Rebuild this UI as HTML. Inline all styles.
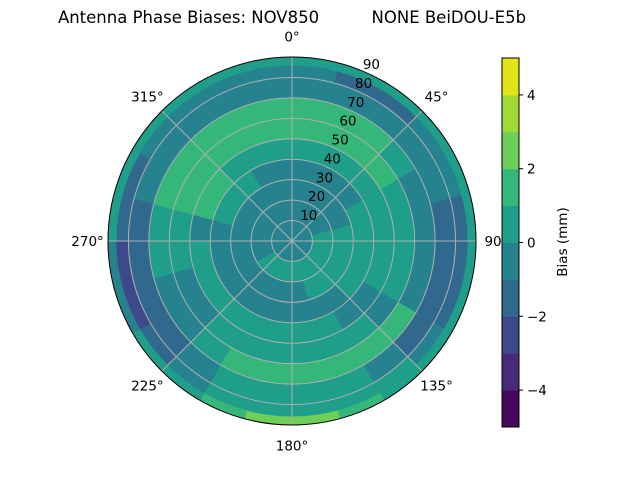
<!DOCTYPE html>
<html><head><meta charset="utf-8"><style>
body{margin:0;background:#fff}
svg{display:block;font-family:"DejaVu Sans","Liberation Sans",sans-serif}
</style></head><body>
<svg id="chart" width="640" height="480" viewBox="0 0 640 480">
<text x="292" y="23" text-anchor="middle" font-size="16.5" style="white-space:pre">Antenna Phase Biases: NOV850          NONE BeiDOU-E5b</text>
<g id="cells"></g>
<g id="grid"></g>
<g id="labels"></g>
<g id="cbar"></g>
</svg>
<script>
const levels=[-5,-4,-3,-2,-1,0,1,2,3,4,5];
const levelColors=["#46085c","#472a7a","#3e4989","#31688e","#26828e","#1f9e89","#35b779","#6ece58","#a0da39","#e2e418"];
const radialTicks=[10,20,30,40,50,60,70,80,90];
const angleTicks=[0,45,90,135,180,225,270,315];
const cbTicks=[-4,-2,0,2,4];
const ringEdges=[0,10,20,30,40,50,60,70,80,86,90];
const ring0=[-0.5,-0.5,-0.5,-0.5,-0.5,-0.5,-0.5,-0.5,-0.5,-0.5,-0.5,-0.5,-0.5,-0.5,-0.5,-0.5,-0.5,-0.5,-0.5,-0.5,-0.5,-0.5,-0.5,-0.5];
const ring1=[-0.5,-0.5,-0.5,-0.5,-0.5,0.5,0.5,0.5,0.5,0.5,0.5,0.5,0.5,0.5,0.5,0.5,-0.5,-0.5,-0.5,-0.5,-0.5,-0.5,-0.5,-0.5];
const ring2=[-0.5,-0.5,-0.5,-0.5,-0.5,0.5,0.5,0.5,0.5,0.5,0.5,-0.5,-0.5,-0.5,-0.5,-0.5,-0.5,-0.5,-0.5,-0.5,-0.5,-0.5,-0.5,-0.5];
const ring3=[-0.5,-0.5,-0.5,-0.5,0.5,0.5,0.5,0.5,0.5,-0.5,-0.5,-0.5,-0.5,-0.5,-0.5,-0.5,-0.5,-0.5,-0.5,0.5,0.5,0.5,-0.5,-0.5];
const ring4=[0.5,0.5,0.5,0.5,0.5,0.5,0.5,0.5,-0.5,-0.5,0.5,0.5,0.5,0.5,0.5,0.5,0.5,0.5,-0.5,1.5,1.5,0.5,0.5,0.5];
const ring5=[1.5,1.5,1.5,1.5,0.5,0.5,0.5,0.5,-0.5,0.5,0.5,0.5,0.5,0.5,0.5,-0.5,-0.5,0.5,0.5,1.5,1.5,1.5,1.5,1.5];
const ring6=[1.5,1.5,1.5,0.5,-0.5,-0.5,-0.5,-0.5,1.5,1.5,1.5,1.5,1.5,1.5,0.5,-0.5,-0.5,0.5,0.5,1.5,1.5,1.5,1.5,1.5];
const ring7=[-0.5,-0.5,-0.5,-0.5,-0.5,-1.5,-1.5,-1.5,-1.5,-0.5,0.5,0.5,0.5,0.5,-0.5,-1.5,-1.5,-1.5,-1.5,-0.5,-0.5,-0.5,-0.5,-0.5];
const ring8=[-0.5,-1.5,-1.5,-0.5,-0.5,-1.5,-1.5,-1.5,-0.5,0.5,0.5,0.5,0.5,0.5,-0.5,-1.5,-2.5,-2.5,-1.5,-1.5,-0.5,-0.5,-0.5,-0.5];
const ring9=[0.5,0.5,0.5,0.5,0.5,0.5,0.5,0.5,0.5,0.5,1.5,2.5,2.5,1.5,0.5,0.5,-0.5,-0.5,0.5,0.5,0.5,0.5,0.5,0.5];
const rings=[ring0,ring1,ring2,ring3,ring4,ring5,ring6,ring7,ring8,ring9];

const NS="http://www.w3.org/2000/svg";
const cx=292,cy=241,R=184,rMax=90;
const rScale=z=>z/rMax*R;
const pt=(az,z)=>{const a=az*Math.PI/180,r=rScale(z);return [cx+r*Math.sin(a),cy-r*Math.cos(a)];};
const colorFor=v=>{for(let i=0;i<levels.length-1;i++){if(v>=levels[i]&&v<levels[i+1])return levelColors[i];}return levelColors[levelColors.length-1];};
function mk(tag,attrs,parent){const e=document.createElementNS(NS,tag);for(const k in attrs)e.setAttribute(k,attrs[k]);parent.appendChild(e);return e;}

const cells=document.getElementById('cells');
rings.forEach((vals,i)=>{
  const n=vals.length,step=360/n,z0=ringEdges[i],z1=ringEdges[i+1];
  vals.forEach((v,k)=>{
    const a0=k*step,a1=(k+1)*step+0.3;
    const p1=pt(a0,z0),p2=pt(a1,z0),p3=pt(a1,z1),p4=pt(a0,z1);
    const r0=rScale(z0),r1=rScale(z1);
    const d=`M${p1[0]},${p1[1]} A${r0},${r0} 0 0 1 ${p2[0]},${p2[1]} L${p3[0]},${p3[1]} A${r1},${r1} 0 0 0 ${p4[0]},${p4[1]}Z`;
    const p=mk('path',{d:d,fill:colorFor(v),stroke:colorFor(v),'stroke-width':0.6},cells);
    
    
  });
});

const grid=document.getElementById('grid');
radialTicks.forEach(t=>{
  const c=mk('circle',{cx:cx,cy:cy,r:rScale(t),fill:'none',stroke:'#b0b0b0','stroke-width':1},grid);
  
  
});
angleTicks.forEach(a=>{
  const p=pt(a,90);
  const l=mk('line',{x1:cx,y1:cy,x2:p[0],y2:p[1],stroke:'#b0b0b0','stroke-width':1},grid);
  
  
});
mk('circle',{cx:cx,cy:cy,r:R,fill:'none',stroke:'#000','stroke-width':1},grid);

const labels=document.getElementById('labels');
angleTicks.forEach(a=>{
  const p=pt(a,90+10);
  const t=mk('text',{x:p[0],y:p[1]+5,'text-anchor':'middle','font-size':13.5},labels);
  t.textContent=a+'°';
  
  
});
radialTicks.forEach(z=>{
  const p=pt(22.5,z);
  const t=mk('text',{x:p[0]+9,y:p[1]-2,'text-anchor':'middle','font-size':13.5},labels);
  t.textContent=z;
  
  
});

const cb=document.getElementById('cbar');
const cbX=502,cbW=17,cbTop=58,cbBot=427;
const cbY=v=>cbBot-(v-levels[0])/(levels[levels.length-1]-levels[0])*(cbBot-cbTop);
levelColors.forEach((c,i)=>{
  const r=mk('rect',{x:cbX,y:cbY(levels[i+1]),width:cbW,height:cbY(levels[i])-cbY(levels[i+1])+0.5,fill:c},cb);
  
  
});
mk('rect',{x:cbX,y:cbTop,width:cbW,height:cbBot-cbTop,fill:'none',stroke:'#000','stroke-width':1},cb);
cbTicks.forEach(v=>{
  const y=cbY(v);
  mk('line',{x1:cbX+cbW,y1:y,x2:cbX+cbW+4,y2:y,stroke:'#000'},cb);
  const t=mk('text',{x:cbX+cbW+8,y:y+5,'font-size':13.5},cb);
  t.textContent=v<0?'\u2212'+Math.abs(v):String(v);
  
  
});
const ct=mk('text',{x:0,y:0,'font-size':13.5,'text-anchor':'middle',transform:`translate(567,242) rotate(-90)`},cb);
ct.textContent='Bias (mm)';


</script>
</body></html>
